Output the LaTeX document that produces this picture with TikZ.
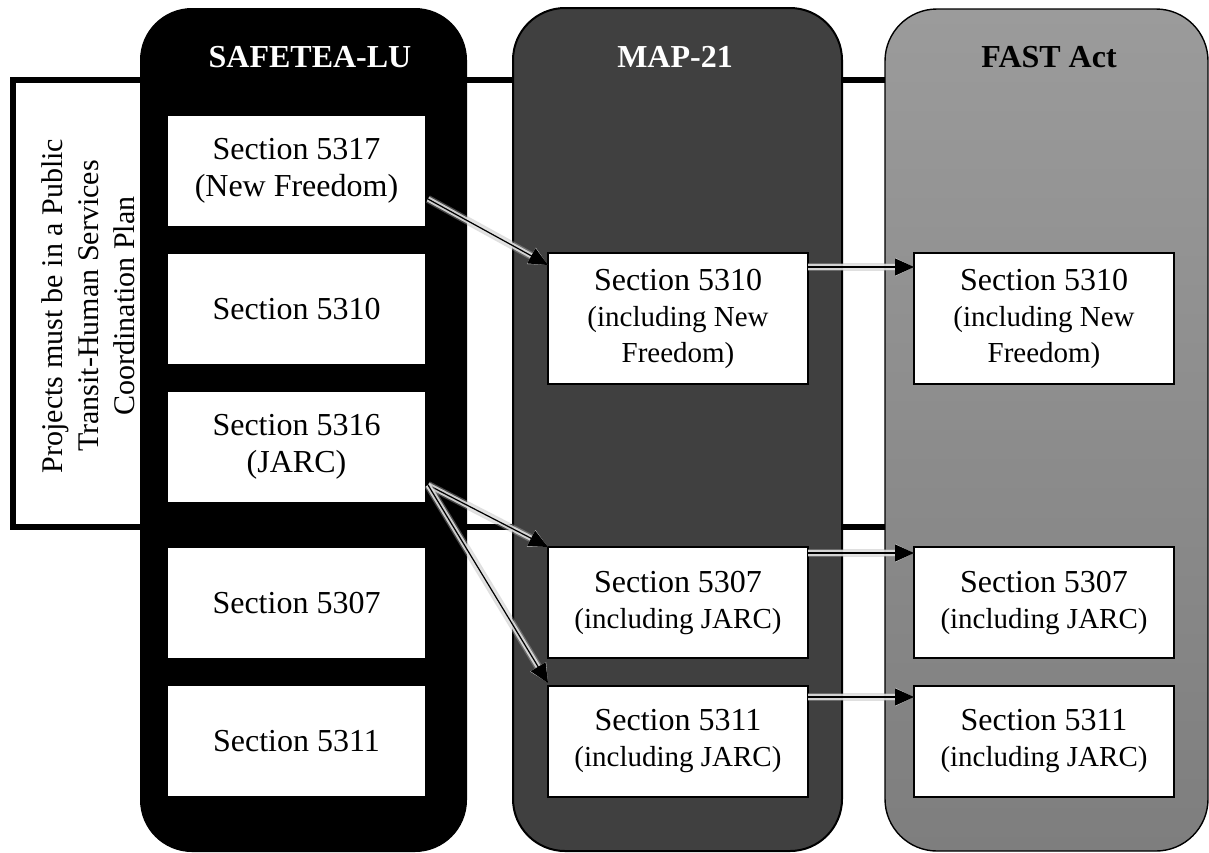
\documentclass[tikz,border=0pt]{standalone}
\usepackage{fontspec}
\setmainfont{Liberation Serif}
\usetikzlibrary{arrows.meta,calc}
\definecolor{mapgray}{RGB}{64,64,64}
\definecolor{fasttop}{RGB}{155,155,155}
\definecolor{fastbot}{RGB}{126,126,126}
\definecolor{glowa}{RGB}{175,175,175}
\definecolor{glowb}{RGB}{228,228,228}
\newcommand{\subl}[1]{{\fontsize{14.5}{17.5}\selectfont #1}}
\begin{document}
\begin{tikzpicture}[x=0.5pt,y=-0.5pt,
  col/.style={rounded corners=26pt, outer sep=0pt, inner sep=0pt},
  coltitle/.style={font=\fontsize{16}{19}\selectfont\bfseries, inner sep=0pt},
  sbox/.style={fill=white, outer sep=0pt, inner sep=2pt, align=center,
    font=\fontsize{16}{18.5}\selectfont, minimum width=128.5pt, minimum height=55pt},
  mbox/.style={draw=black, line width=0.8pt, fill=white, outer sep=0pt, inner sep=2pt,
    align=center, font=\fontsize{16}{18}\selectfont, minimum width=130pt},
  conn/.style={-{Triangle[length=9.5pt,width=8.5pt]}, line width=0.6pt,
    preaction={draw=glowa, line width=4pt, opacity=0.4},
    preaction={draw=glowb, line width=2.6pt, opacity=0.85}}
]
\useasboundingbox (0,0) rectangle (1209,852);
\fill[white] (0,0) rectangle (1209,852);

% frame of the coordination plan
\draw[line width=3pt] (13,80) rectangle (990,527);
\node[rotate=90, align=center, font=\fontsize{15}{18}\selectfont] (plan) at (88,306)
  {Projects must be in a Public\\Transit-Human Services\\Coordination Plan};

% columns
\node[col, fill=black, minimum width=163.5pt, minimum height=422pt] (colS) at (303.5,430) {};
\node[col, draw=black, line width=1pt, fill=mapgray, minimum width=164.5pt, minimum height=421.5pt] (colM) at (677.5,429.5) {};
\node[col, draw=black, line width=0.7pt, top color=fasttop, bottom color=fastbot, minimum width=161.5pt, minimum height=421pt] (colF) at (1046.5,430) {};

\node[coltitle, text=white] (tS) at (310,57) {SAFETEA-LU};
\node[coltitle, text=white] (tM) at (675,57) {MAP-21};
\node[coltitle, text=black] (tF) at (1049,57) {FAST Act};

% SAFETEA-LU boxes
\node[sbox] (s5317) at (296.5,171) {Section 5317\\(New Freedom)};
\node[sbox] (s5310) at (296.5,309) {Section 5310};
\node[sbox] (s5316) at (296.5,447) {Section 5316\\(JARC)};
\node[sbox] (s5307) at (296.5,603) {Section 5307};
\node[sbox] (s5311) at (296.5,741) {Section 5311};

% MAP-21 boxes
\node[mbox, minimum height=65.5pt] (m5310) at (678,318.5) {Section 5310\\\subl{(including New}\\\subl{Freedom)}};
\node[mbox, minimum height=55.5pt] (m5307) at (678,602.5) {Section 5307\\\subl{(including JARC)}};
\node[mbox, minimum height=55.5pt] (m5311) at (678,741.5) {Section 5311\\\subl{(including JARC)}};

% FAST Act boxes
\node[mbox, minimum height=65.5pt] (f5310) at (1044,318.5) {Section 5310\\\subl{(including New}\\\subl{Freedom)}};
\node[mbox, minimum height=55.5pt] (f5307) at (1044,602.5) {Section 5307\\\subl{(including JARC)}};
\node[mbox, minimum height=55.5pt] (f5311) at (1044,741.5) {Section 5311\\\subl{(including JARC)}};

% connectors
\coordinate (o5317) at ($(s5317.south east)+(3,-27)$);
\coordinate (o5316) at ($(s5316.south east)+(3,-17)$);
\draw[conn] (o5317) -- ($(m5310.north west)+(0,12)$);
\draw[conn] (o5316) -- (m5307.north west);
\draw[conn] (o5316) -- ($(m5311.north west)+(0,-3)$);
\draw[conn] ($(m5310.north east)+(0,14)$) -- ($(f5310.north west)+(0,14)$);
\draw[conn] ($(m5307.north east)+(0,6)$) -- ($(f5307.north west)+(0,6)$);
\draw[conn] ($(m5311.north east)+(0,11)$) -- ($(f5311.north west)+(0,11)$);
\end{tikzpicture}
\end{document}
